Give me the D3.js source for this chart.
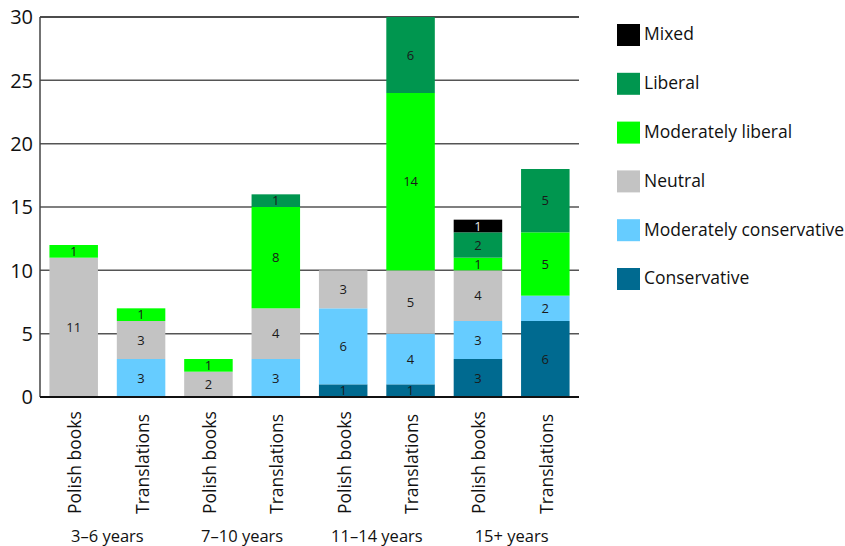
<!DOCTYPE html>
<html>
<head>
<meta charset="utf-8">
<script src="https://cdn.jsdelivr.net/npm/d3@7"></script>
<style>
  html, body { margin: 0; padding: 0; background: #fff; }
  svg { display: block; font-family: "Open Sans", "DejaVu Sans", sans-serif; }
</style>
</head>
<body>
<svg id="chart" width="845" height="546"></svg>
<script>
// Bars: each age group has Polish books and Translations
const bars = ["3–6 P", "3–6 T", "7–10 P", "7–10 T", "11–14 P", "11–14 T", "15+ P", "15+ T"];
const barLabels = ["Polish books", "Translations", "Polish books", "Translations",
                   "Polish books", "Translations", "Polish books", "Translations"];
const groups = ["3–6 years", "7–10 years", "11–14 years", "15+ years"];

// Stack order bottom to top
const series = ["Conservative", "Moderately conservative", "Neutral", "Moderately liberal", "Liberal", "Mixed"];
const colors = ["#006a90", "#66ccff", "#c3c3c3", "#00ff00", "#00964f", "#000000"];

const conservative           = [0, 0, 0, 0, 1, 1, 3, 6];
const moderatelyConservative = [0, 3, 0, 3, 6, 4, 3, 2];
const neutral                = [11, 3, 2, 4, 3, 5, 4, 0];
const moderatelyLiberal      = [1, 1, 1, 8, 0, 14, 1, 5];
const liberal                = [0, 0, 0, 1, 0, 6, 2, 5];
const mixed                  = [0, 0, 0, 0, 0, 0, 1, 0];

const yTicks = [0, 5, 10, 15, 20, 25, 30];

const seriesValues = [conservative, moderatelyConservative, neutral, moderatelyLiberal, liberal, mixed];
const rows = bars.map((b, i) => {
  const r = { bar: b };
  series.forEach((s, k) => { r[s] = seriesValues[k][i]; });
  return r;
});

const svg = d3.select("#chart");
const margin = { left: 40, right: 266, top: 17, bottom: 149 };
const W = 845, H = 546;
const x0 = margin.left, x1 = W - margin.right;
const y0 = H - margin.bottom, y1 = margin.top;

const x = d3.scaleBand().domain(bars).range([x0, x1]).paddingInner(0.28).paddingOuter(0.14);
const y = d3.scaleLinear().domain([0, 30]).range([y0, y1]);

// Gridlines
svg.append("g").selectAll("line").data(yTicks.filter(t => t > 0)).join("line")
  .attr("x1", x0).attr("x2", x1)
  .attr("y1", d => y(d)).attr("y2", d => y(d))
  .attr("stroke", d => d === 30 ? "#111" : "#555")
  .attr("stroke-width", 1.5);

// Stacked segments
const stack = d3.stack().keys(series)(rows);
const layer = svg.append("g").selectAll("g").data(stack).join("g")
  .attr("fill", (d, i) => colors[i]);
layer.selectAll("rect").data(d => d.filter(v => v[1] - v[0] > 0))
  .join("rect")
  .attr("x", d => x(d.data.bar))
  .attr("width", x.bandwidth())
  .attr("y", d => y(d[1]))
  .attr("height", d => y(d[0]) - y(d[1]));

// Value labels inside segments
stack.forEach((s) => {
  svg.append("g").selectAll("text").data(s.filter(v => v[1] - v[0] > 0)).join("text")
    .attr("x", d => x(d.data.bar) + x.bandwidth() / 2)
    .attr("y", d => (y(d[0]) + y(d[1])) / 2)
    .attr("dy", "0.36em")
    .attr("text-anchor", "middle")
    .attr("font-size", 13)
    .attr("fill", s.key === "Mixed" ? "#e8e8e8" : "#1a1a1a")
    .text(d => d[1] - d[0]);
});

// Axis lines
svg.append("line").attr("x1", x0).attr("x2", x0).attr("y1", y1).attr("y2", y0)
  .attr("stroke", "#444").attr("stroke-width", 1.5);
svg.append("line").attr("x1", x0).attr("x2", x1).attr("y1", y0).attr("y2", y0)
  .attr("stroke", "#111").attr("stroke-width", 2);

// Y tick labels
svg.append("g").selectAll("text").data(yTicks).join("text")
  .attr("x", x0 - 7).attr("y", d => y(d)).attr("dy", "0.36em")
  .attr("text-anchor", "end").attr("font-size", 20).attr("fill", "#111")
  .text(d => d);

// Rotated bar labels, bottom-aligned
svg.append("g").selectAll("text").data(bars).join("text")
  .attr("transform", (d) => `translate(${x(d) + x.bandwidth() / 2 + 7.5},514) rotate(-90)`)
  .attr("text-anchor", "start").attr("font-size", 17.5).attr("fill", "#111")
  .text((d, i) => barLabels[i]);

// Group labels
svg.append("g").selectAll("text").data(groups).join("text")
  .attr("x", (d, i) => (x(bars[2 * i]) + x(bars[2 * i + 1]) + x.bandwidth()) / 2)
  .attr("y", 542)
  .attr("text-anchor", "middle").attr("font-size", 16.5).attr("fill", "#111")
  .text(d => d);

// Legend (top to bottom: Mixed ... Conservative)
const legendItems = series.map((s, i) => ({ s, c: colors[i] })).reverse();
const lg = svg.append("g").selectAll("g").data(legendItems).join("g")
  .attr("transform", (d, i) => `translate(617,${24 + i * 48.8})`);
lg.append("rect").attr("width", 23).attr("height", 22).attr("fill", d => d.c);
lg.append("text").attr("x", 27).attr("y", 10).attr("dy", "0.36em")
  .attr("font-size", 17.5).attr("fill", "#111").text(d => d.s);
</script>
</body>
</html>
